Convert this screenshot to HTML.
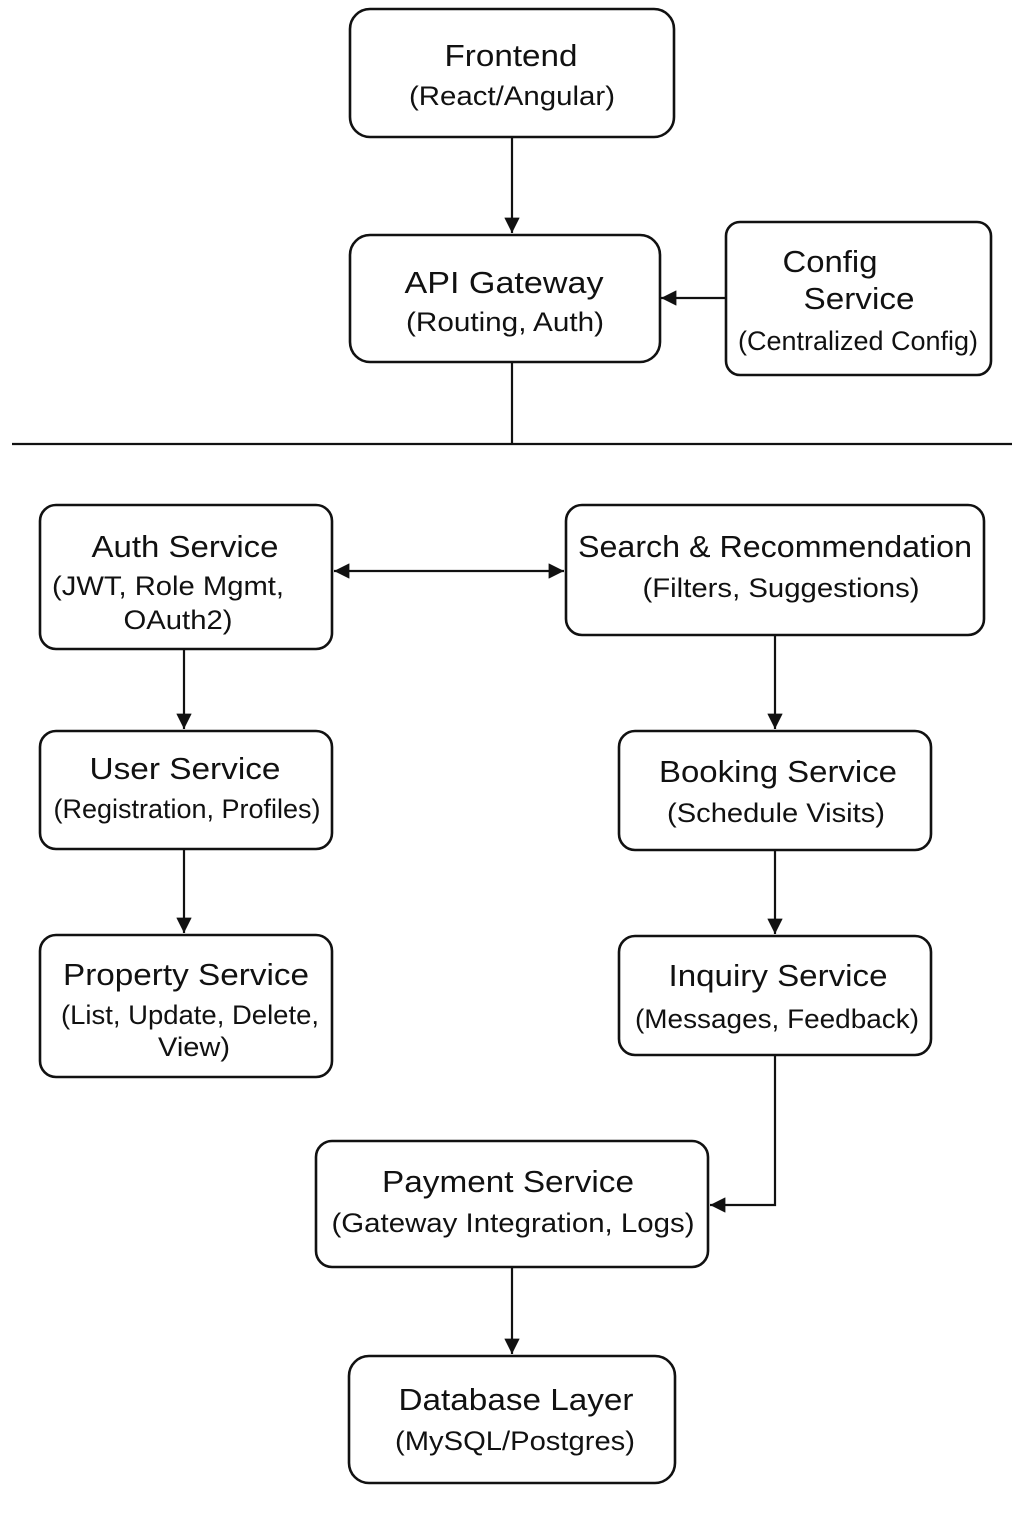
<!DOCTYPE html>
<html><head><meta charset="utf-8"><style>
html,body{margin:0;padding:0;background:#fff}
svg{display:block}
text{font-family:"Liberation Sans",sans-serif;fill:#111;text-anchor:middle}
.t{font-size:31px}.s{font-size:27px}
rect{fill:#fff;stroke:#111;stroke-width:2.6}
line,path{stroke:#111;stroke-width:2.2;fill:none}
</style></head><body>
<svg width="1024" height="1536" viewBox="0 0 1024 1536">
<defs><marker id="a" viewBox="0 0 10 10" refX="10" refY="5" markerWidth="7" markerHeight="7" orient="auto-start-reverse"><path d="M0,0 L10,5 L0,10 z" style="fill:#111;stroke:none"/></marker></defs>

<rect x="350" y="9" width="324" height="128" rx="20"/>
<text class="t" x="511" y="66" textLength="133" lengthAdjust="spacingAndGlyphs">Frontend</text>
<text class="s" x="512" y="105" textLength="206" lengthAdjust="spacingAndGlyphs">(React/Angular)</text>

<rect x="350" y="235" width="310" height="127" rx="20"/>
<text class="t" x="504" y="293" textLength="199" lengthAdjust="spacingAndGlyphs">API Gateway</text>
<text class="s" x="505" y="331" textLength="198" lengthAdjust="spacingAndGlyphs">(Routing, Auth)</text>

<rect x="726" y="222" width="265" height="153" rx="14"/>
<text class="t" x="830" y="272" textLength="95" lengthAdjust="spacingAndGlyphs">Config</text>
<text class="t" x="859" y="309" textLength="111" lengthAdjust="spacingAndGlyphs">Service</text>
<text class="s" x="858" y="350" textLength="240" lengthAdjust="spacingAndGlyphs">(Centralized Config)</text>

<line x1="512" y1="137" x2="512" y2="233" marker-end="url(#a)"/>
<line x1="726" y1="298" x2="661" y2="298" marker-end="url(#a)"/>
<line x1="512" y1="362" x2="512" y2="444"/>
<line x1="12" y1="444" x2="1012" y2="444"/>

<rect x="40" y="505" width="292" height="144" rx="16"/>
<text class="t" x="185" y="557" textLength="187" lengthAdjust="spacingAndGlyphs">Auth Service</text>
<text class="s" x="168" y="595" textLength="232" lengthAdjust="spacingAndGlyphs">(JWT, Role Mgmt,</text>
<text class="s" x="178" y="629" textLength="109" lengthAdjust="spacingAndGlyphs">OAuth2)</text>

<rect x="566" y="505" width="418" height="130" rx="16"/>
<text class="t" x="775" y="557" textLength="394" lengthAdjust="spacingAndGlyphs">Search &amp; Recommendation</text>
<text class="s" x="781" y="597" textLength="277" lengthAdjust="spacingAndGlyphs">(Filters, Suggestions)</text>

<line x1="334" y1="571" x2="564" y2="571" marker-start="url(#a)" marker-end="url(#a)"/>

<rect x="40" y="731" width="292" height="118" rx="16"/>
<text class="t" x="185" y="779" textLength="191" lengthAdjust="spacingAndGlyphs">User Service</text>
<text class="s" x="187" y="818" textLength="267" lengthAdjust="spacingAndGlyphs">(Registration, Profiles)</text>

<rect x="40" y="935" width="292" height="142" rx="16"/>
<text class="t" x="186" y="985" textLength="246" lengthAdjust="spacingAndGlyphs">Property Service</text>
<text class="s" x="190" y="1024" textLength="258" lengthAdjust="spacingAndGlyphs">(List, Update, Delete,</text>
<text class="s" x="194" y="1056" textLength="72" lengthAdjust="spacingAndGlyphs">View)</text>

<rect x="619" y="731" width="312" height="119" rx="16"/>
<text class="t" x="778" y="782" textLength="238" lengthAdjust="spacingAndGlyphs">Booking Service</text>
<text class="s" x="776" y="822" textLength="218" lengthAdjust="spacingAndGlyphs">(Schedule Visits)</text>

<rect x="619" y="936" width="312" height="119" rx="16"/>
<text class="t" x="778" y="986" textLength="219" lengthAdjust="spacingAndGlyphs">Inquiry Service</text>
<text class="s" x="777" y="1028" textLength="284" lengthAdjust="spacingAndGlyphs">(Messages, Feedback)</text>

<rect x="316" y="1141" width="392" height="126" rx="16"/>
<text class="t" x="508" y="1192" textLength="252" lengthAdjust="spacingAndGlyphs">Payment Service</text>
<text class="s" x="513" y="1232" textLength="363" lengthAdjust="spacingAndGlyphs">(Gateway Integration, Logs)</text>

<rect x="349" y="1356" width="326" height="127" rx="20"/>
<text class="t" x="516" y="1410" textLength="235" lengthAdjust="spacingAndGlyphs">Database Layer</text>
<text class="s" x="515" y="1450" textLength="240" lengthAdjust="spacingAndGlyphs">(MySQL/Postgres)</text>

<line x1="184" y1="649" x2="184" y2="729" marker-end="url(#a)"/>
<line x1="184" y1="849" x2="184" y2="933" marker-end="url(#a)"/>
<line x1="775" y1="635" x2="775" y2="729" marker-end="url(#a)"/>
<line x1="775" y1="850" x2="775" y2="934" marker-end="url(#a)"/>
<path d="M775,1055 L775,1205 L710,1205" marker-end="url(#a)"/>
<line x1="512" y1="1267" x2="512" y2="1354" marker-end="url(#a)"/>
</svg>
</body></html>
